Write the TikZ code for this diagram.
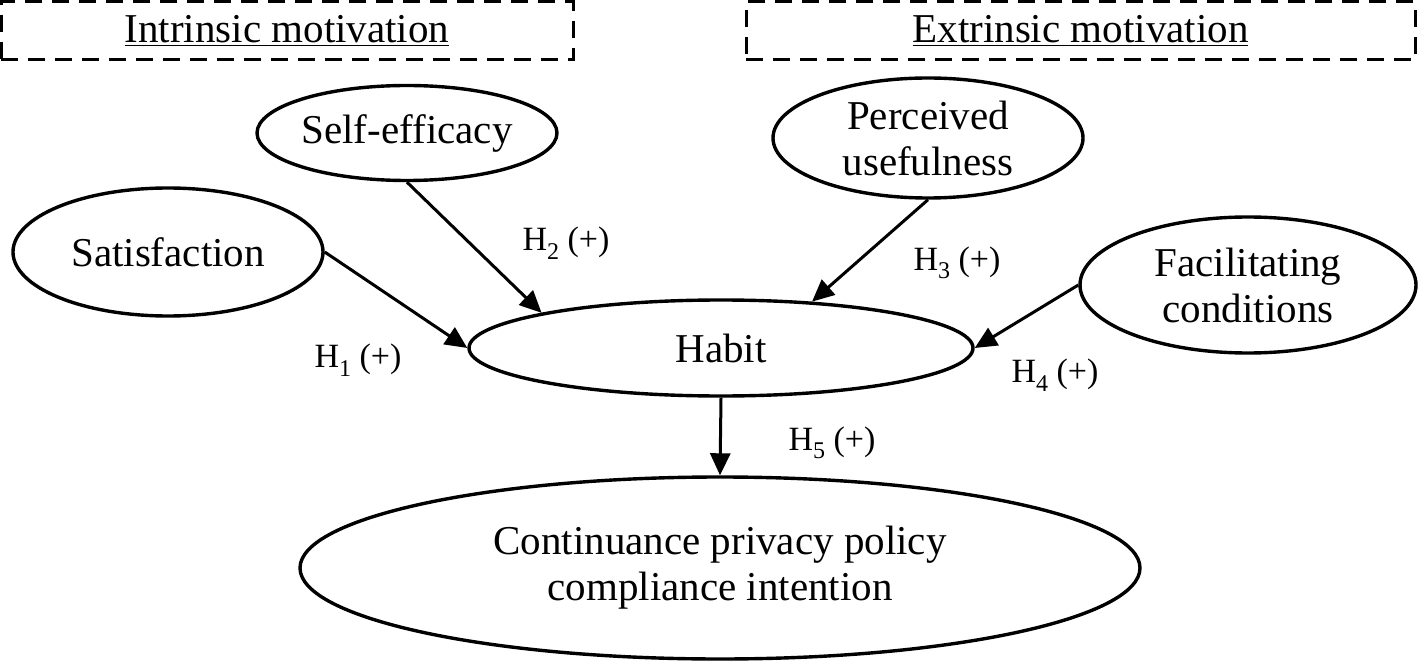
\documentclass[tikz,border=0pt]{standalone}
\usepackage{fontspec}
\setmainfont{Liberation Serif}
\usetikzlibrary{shapes.geometric,arrows.meta}

\newcommand\hsub[1]{\raisebox{-0.55ex}{\fontsize{12}{12}\selectfont #1}}

\begin{document}
\begin{tikzpicture}[x=0.5pt,y=-0.5pt,
    construct/.style={draw,ellipse,line width=1.7pt,inner sep=0pt,align=center,
        font=\fontsize{20.5}{23}\selectfont},
    link/.style={-{Triangle[length=11pt,width=10pt]},line width=1.5pt},
    hyp/.style={font=\fontsize{17}{20}\selectfont},
    motive/.style={draw,dash pattern=on 8.5pt off 5pt,line width=1.5pt,inner sep=0pt,
        minimum height=29pt,font=\fontsize{20.5}{23}\selectfont}]
    \useasboundingbox (0,0) rectangle (1418,663);

    % motivation groups
    \node[motive,minimum width=286pt] (intr) at (287,31) {\underline{Intrinsic motivation}};
    \node[motive,minimum width=334.5pt] (extr) at (1080.5,31) {\underline{Extrinsic motivation}};

    % constructs
    \node[construct,minimum width=150pt,minimum height=47.5pt] (self) at (407,133) {Self-efficacy};
    \node[construct,minimum width=155pt,minimum height=64pt] (sat) at (168,252) {Satisfaction};
    \node[construct,minimum width=155pt,minimum height=60pt] (useful) at (928,138) {Perceived\\usefulness};
    \node[construct,minimum width=168pt,minimum height=68pt] (facil) at (1248,285) {Facilitating\\conditions};
    \node[construct,minimum width=252pt,minimum height=48pt] (habit) at (721,348) {Habit};
    \node[construct,minimum width=420pt,minimum height=91pt] (cont) at (720,568)
        {Continuance privacy policy\\compliance intention};

    % hypotheses
    \draw[link] (sat.east) -- (habit.west);
    \node[hyp] (h1) at (358,360) {H\hsub{1} (+)};
    \draw[link] (self.south) -- (habit.north west);
    \node[hyp] (h2) at (566,243) {H\hsub{2} (+)};
    \draw[link] (useful.south) -- (habit.27);
    \node[hyp] (h3) at (957,263) {H\hsub{3} (+)};
    \draw[link] (facil.west) -- (habit.east);
    \node[hyp] (h4) at (1055,375) {H\hsub{4} (+)};
    \draw[link] (habit.south) -- (cont.north);
    \node[hyp] (h5) at (832,443) {H\hsub{5} (+)};
\end{tikzpicture}
\end{document}
